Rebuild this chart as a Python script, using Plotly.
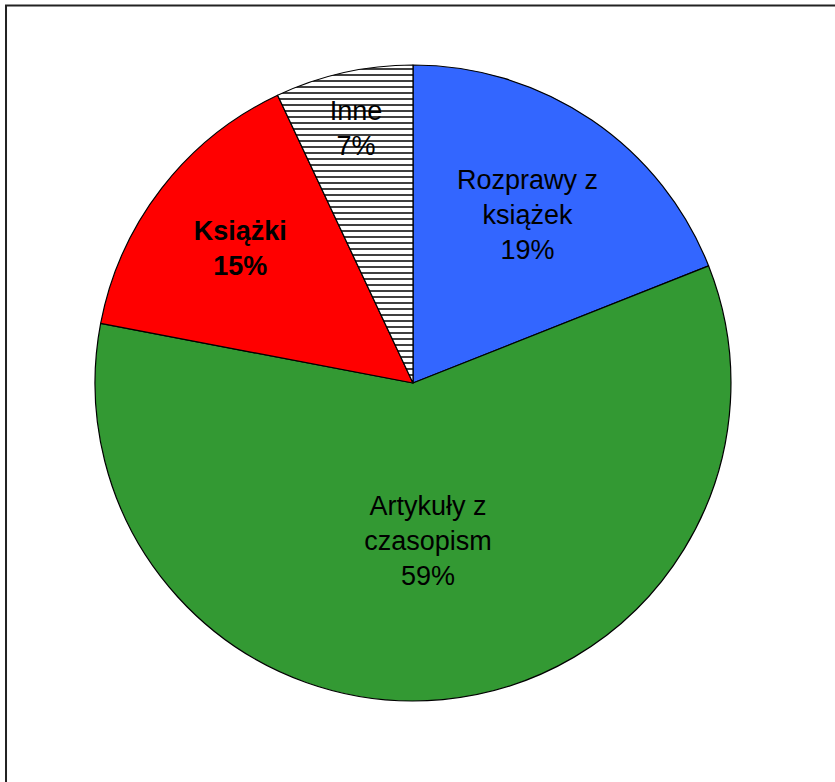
import plotly.graph_objects as go

# data
labels = ["Rozprawy z książek", "Artykuły z czasopism", "Książki", "Inne"]
values = [19, 59, 15, 7]
slice_text = ["Rozprawy z<br>książek<br>19%", "Artykuły z<br>czasopism<br>59%",
              "<b>Książki<br>15%</b>", "Inne<br>7%"]
colors = ["#3366FF", "#339933", "#FF0000", "#FFFFFF"]
patterns = ["", "", "", "-"]

fig = go.Figure(go.Pie(
    labels=labels,
    values=values,
    text=slice_text,
    texttemplate="%{text}",
    textposition="inside",
    insidetextorientation="horizontal",
    sort=False,
    direction="clockwise",
    rotation=0,
    marker=dict(colors=colors,
                line=dict(color="black", width=1.2),
                pattern=dict(shape=patterns, fgcolor="black", bgcolor="white",
                             size=6, solidity=0.25)),
    textfont=dict(family="Liberation Sans, Arial", size=27, color="black"),
    showlegend=False,
    hoverinfo="label+percent",
    domain=dict(x=[0.1138, 0.8754], y=[0.1036, 0.9169]),
))

# frame round the chart area (runs off the right and bottom edge)
fig.add_shape(type="rect", xref="paper", yref="paper",
              x0=0.0072, x1=1.05, y0=-0.05, y1=0.9930,
              line=dict(color="#222222", width=2))

fig.update_layout(width=835, height=782,
                  margin=dict(l=0, r=0, t=0, b=0),
                  paper_bgcolor="white", plot_bgcolor="white",
                  uniformtext=dict(minsize=27, mode="show"))

# drop the page's default body margin so the figure sits at 0,0
fig.write_html("out.html", config={"displayModeBar": False},
               post_script="document.body.style.margin='0';")
